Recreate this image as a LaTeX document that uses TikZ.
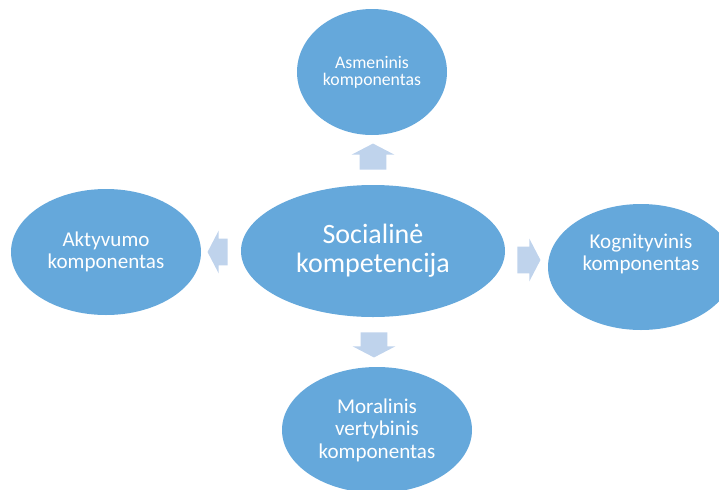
\documentclass[tikz,border=0pt]{standalone}
\usepackage{fontspec}
\setmainfont{Carlito}
\usetikzlibrary{shapes.geometric,shapes.arrows}
\definecolor{Bubble}{HTML}{65A8DB}
\definecolor{ArrowBlue}{HTML}{BFD3EC}

\begin{document}
\begin{tikzpicture}[x=0.75pt,y=-0.75pt,
    bubble/.style={ellipse,fill=Bubble,text=white,inner sep=0pt,align=center,minimum width=142.5pt,minimum height=94.5pt,font=\fontsize{15.8}{16}\selectfont},
    blockarrow/.style={single arrow,fill=ArrowBlue,inner xsep=0pt,inner ysep=9.75pt,minimum width=31.5pt,single arrow head extend=6pt,single arrow tip angle=125}]
  \useasboundingbox (0,0) rectangle (719,490);
  \clip (0,0) rectangle (719,490);

  \node[bubble,minimum width=198pt,minimum height=99pt,font=\fontsize{21}{21.75}\selectfont] (social) at (373,251) {Socialinė\\kompetencija};

  \node[bubble,minimum width=112.5pt,font=\fontsize{13.3}{12.75}\selectfont] (asmen) at (372,72) {Asmeninis\\komponentas};
  \node[bubble] (aktyv) at (106,252) {Aktyvumo\\komponentas};
  \node[bubble,minimum width=139.5pt,label={[text=white,align=center,font=\fontsize{15.8}{16.5}\selectfont,yshift=9.75pt]center:{Kognityvinis\\komponentas}}] (kognit) at (641,267) {};
  \node[bubble,font=\fontsize{15.8}{16.9}\selectfont] (moral) at (377,430) {Moralinis\\vertybinis\\komponentas};

  \node[blockarrow,minimum height=19.5pt,rotate=90] (toasmen) at (373,160) {};
  \node[blockarrow,minimum height=15pt,rotate=180] (toaktyv) at (221,252) {};
  \node[blockarrow,minimum height=17.25pt] (tokognit) at (525.5,260) {};
  \node[blockarrow,minimum height=18.75pt,rotate=-90] (tomoral) at (374,341.5) {};
\end{tikzpicture}
\end{document}
